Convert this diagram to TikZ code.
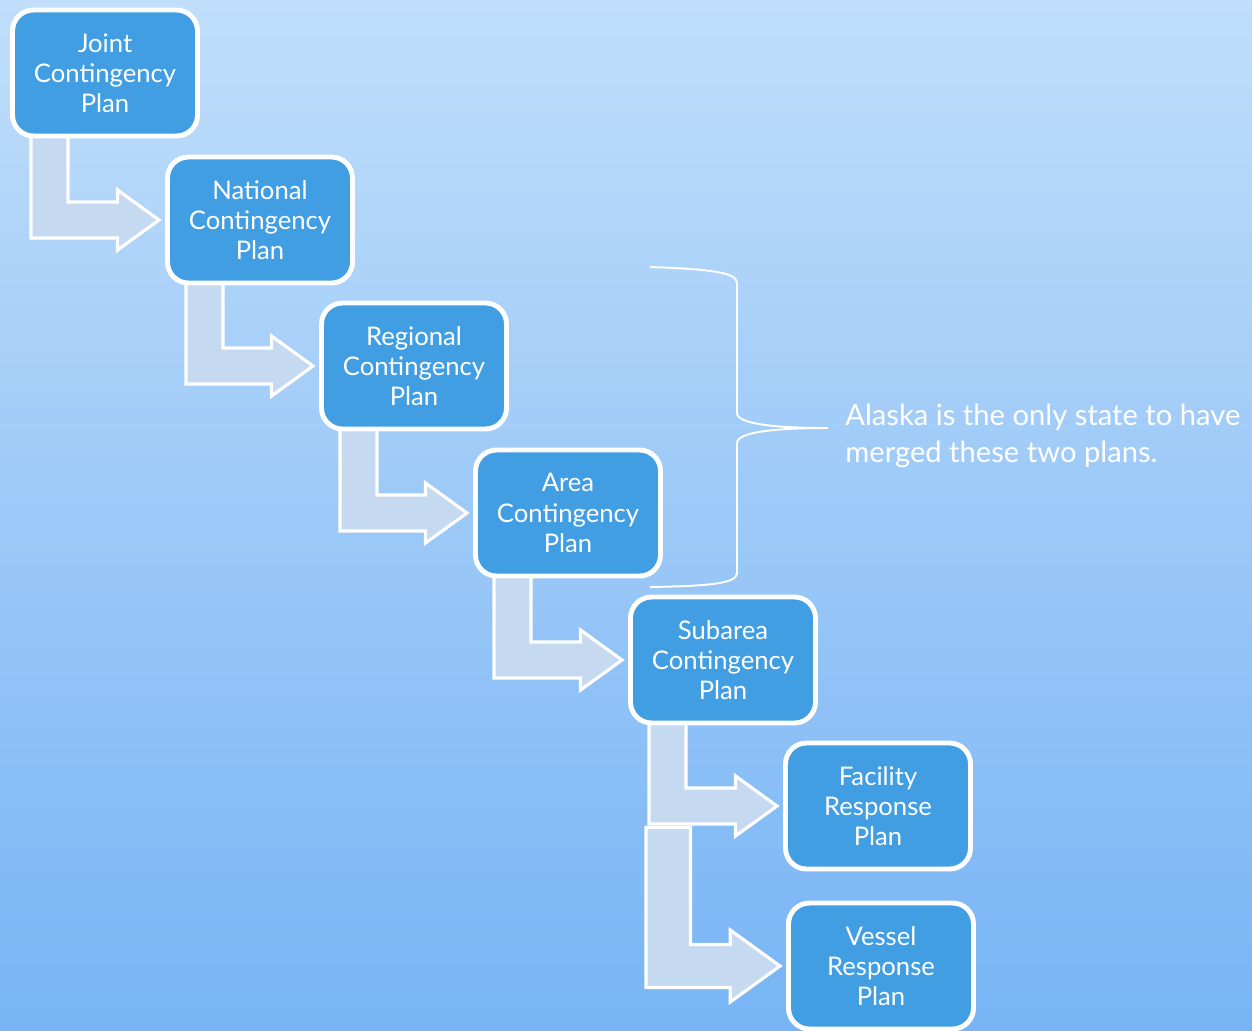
\documentclass[tikz,border=0pt]{standalone}
\usepackage{fontspec}
\setmainfont{Lato}
\usetikzlibrary{calc}
\pgfdeclarelayer{bg}
\pgfdeclarelayer{arrows}
\pgfsetlayers{bg,arrows,main}
\definecolor{bgtop}{RGB}{192,222,250}
\definecolor{bgbottom}{RGB}{120,180,245}
\definecolor{planblue}{RGB}{66,158,227}
\definecolor{arrowpale}{RGB}{197,217,241}
\tikzset{
  plan/.style={draw=white, line width=2.8pt, fill=planblue, rounded corners=0.42cm,
    minimum width=3.7cm, minimum height=2.52cm, inner sep=0pt, text=white,
    align=center, font=\fontsize{14.6}{17.2}\selectfont},
  bentbody/.style={draw=white, line width=1.8pt, fill=arrowpale, line join=miter},
  note/.style={text=white, align=left, inner sep=0pt, font=\fontsize{16.6}{21.5}\selectfont}
}
\def\bentarrow[#1](#2)(#3){\draw[bentbody] let \p1=(#2), \p2=(#3.west) in
  (\x1,\y1) -- (\x1+0.74*#1cm,\y1) -- (\x1+0.74*#1cm,\y2+0.36*#1cm)
  -- (\x2-0.12cm-0.83*#1cm,\y2+0.36*#1cm) -- (\x2-0.12cm-0.83*#1cm,\y2+0.6*#1cm)
  -- (\x2-0.12cm,\y2) -- (\x2-0.12cm-0.83*#1cm,\y2-0.6*#1cm)
  -- (\x2-0.12cm-0.83*#1cm,\y2-0.36*#1cm) -- (\x1,\y2-0.36*#1cm) -- cycle;}

\begin{document}
\begin{tikzpicture}
			%%%%% START %%%%%
			
			\useasboundingbox (0, 0) rectangle (25.04, -20.6);
			\begin{pgfonlayer}{bg}
			\shade[top color=bgtop, bottom color=bgbottom] (0, 0) rectangle (25.04, -20.6);
			\end{pgfonlayer}
			
			\node[plan] (joint) at (2.10, -1.46) {Joint\\Contingency\\Plan};
			\node[plan] (national) at (5.20, -4.40) {National\\Contingency\\Plan};
			\node[plan] (regional) at (8.28, -7.32) {Regional\\Contingency\\Plan};
			\node[plan] (area) at (11.36, -10.26) {Area\\Contingency\\Plan};
			\node[plan] (subarea) at (14.46, -13.20) {Subarea\\Contingency\\Plan};
			\node[plan] (facility) at (17.56, -16.12) {Facility\\Response\\Plan};
			\node[plan] (vessel) at (17.62, -19.32) {Vessel\\Response\\Plan};
			
			\begin{pgfonlayer}{arrows}
			\bentarrow[1]($(joint.south west)+(0.42, 0.2)$)(national)
			\bentarrow[1]($(national.south west)+(0.42, 0.2)$)(regional)
			\bentarrow[1]($(regional.south west)+(0.42, 0.2)$)(area)
			\bentarrow[1]($(area.south west)+(0.42, 0.2)$)(subarea)
			\bentarrow[1]($(subarea.south west)+(0.42, 0.2)$)(facility)
			\bentarrow[1.2]($(subarea.south west)+(0.36, -2.04)$)(vessel)
			\end{pgfonlayer}
			
			\node[note, anchor=west] (alaska) at (16.9, -8.72) {Alaska is the only state to have\\merged these two plans.};
			\coordinate (tip) at (16.56, -8.56);
			
			\draw[white, line width=1.1pt] (13.0, -5.34) .. controls (14.2, -5.38) and (14.74, -5.45) .. (14.74, -5.66)
			  -- (14.74, -8.26) .. controls (14.74, -8.48) and (15.5, -8.56) .. (tip)
			  .. controls (15.5, -8.56) and (14.74, -8.64) .. (14.74, -8.86)
			  -- (14.74, -11.46) .. controls (14.74, -11.67) and (14.2, -11.72) .. (13.0, -11.74);
			
			%%%%% END %%%%%
\end{tikzpicture}
\end{document}
